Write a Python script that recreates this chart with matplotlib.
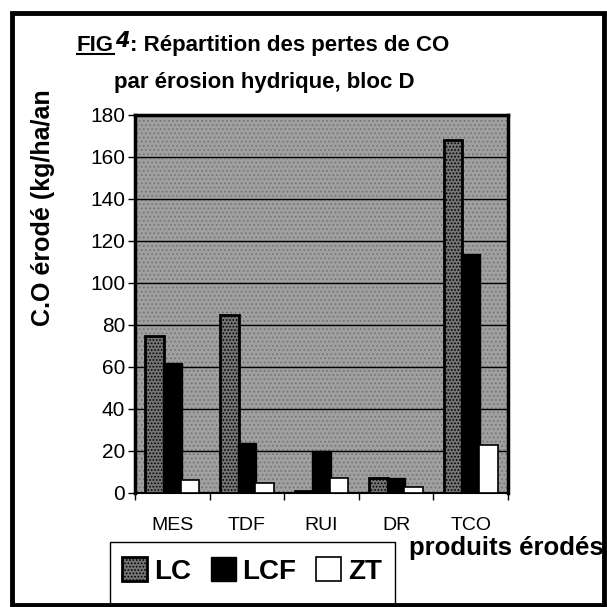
import numpy as np
import matplotlib.pyplot as plt
from matplotlib.patches import Rectangle
from matplotlib.lines import Line2D

# données (kg/ha/an)
categories = ["MES", "TDF", "RUI", "DR", "TCO"]
series = ["LC", "LCF", "ZT"]
lc = [75, 85, 1, 7, 168]
lcf = [62, 24, 20, 7, 114]
zt = [6, 5, 7, 3, 23]
yticks = [0, 20, 40, 60, 80, 100, 120, 140, 160, 180]

plt.rcParams['font.family'] = ['Liberation Sans', 'DejaVu Sans']
plt.rcParams['hatch.linewidth'] = 0.8

W = H = 607
def px(x):
    return x / W
def py(y):
    return 1 - y / H

fig = plt.figure(figsize=(6.07, 6.07), dpi=100)
ax = fig.add_axes([px(135), py(493), px(508) - px(135), py(115) - py(493)])

# fond grisé du graphe
ax.set_facecolor('#a0a0a0')
ax.add_patch(Rectangle((0, 0), 1, 1, transform=ax.transAxes, facecolor='none',
                       edgecolor='#767676', hatch='....', linewidth=0, zorder=0.5))

x = np.arange(len(categories))
w = 0.25
b1 = ax.bar(x - 0.235, lc, w, facecolor='#747474', edgecolor='black', linewidth=2,
            hatch='.....', zorder=3, label=series[0])
b2 = ax.bar(x, lcf, w, facecolor='black', edgecolor='black', linewidth=1,
            zorder=3, label=series[1])
b3 = ax.bar(x + 0.235, zt, w, facecolor='white', edgecolor='black', linewidth=1.2,
            zorder=3, label=series[2])

ax.set_xlim(-0.5, len(categories) - 0.5)
ax.set_ylim(0, 180)
ax.set_yticks(yticks)
ax.yaxis.grid(True, color='black', linewidth=1)
ax.set_axisbelow(True)
ax.tick_params(axis='y', direction='out', length=5, width=1, labelsize=15, pad=2)

ax.set_xticks(x)
ax.set_xticklabels(categories, fontsize=14)
ax.set_xticks(np.arange(-0.5, len(categories)), minor=True)
ax.tick_params(axis='x', which='major', length=0, pad=17)
ax.tick_params(axis='x', which='minor', length=5, width=1, direction='out')

for s in ['top', 'right', 'left']:
    ax.spines[s].set_linewidth(2.5)
ax.spines['bottom'].set_linewidth(1.5)

# axe y
fig.text(px(43), py(208), "C.O érodé (kg/ha/an", rotation=90, ha='center', va='center',
         fontsize=18, fontweight='bold')

# titre en morceaux (FIG souligné + 4 manuscrit)
fig.canvas.draw()
r = fig.canvas.get_renderer()
t1 = fig.text(px(77), py(51), "FIG", fontsize=16, fontweight='bold', va='baseline')
bb = t1.get_window_extent(r)
fig.add_artist(Line2D([bb.x0 / W, bb.x1 / W], [py(54), py(54)], color='black', linewidth=1.5))
t2 = fig.text(bb.x1 / W + px(1), py(47), "4", fontsize=15, va='baseline',
              family='DejaVu Sans', style='italic', fontweight='bold')
bb2 = t2.get_window_extent(r)
fig.text(bb2.x1 / W, py(51), ": Répartition des pertes de CO", fontsize=16,
         fontweight='bold', va='baseline')
fig.text(px(264), py(88), "par érosion hydrique, bloc D", fontsize=16,
         fontweight='bold', va='baseline', ha='center')

fig.text(px(409), py(555), "produits érodés", fontsize=18.5, fontweight='bold', va='baseline')

# légende
fig.add_artist(Rectangle((px(110), py(605)), px(395) - px(110), py(542) - py(605),
                         transform=fig.transFigure, facecolor='white', edgecolor='black',
                         linewidth=1))
fig.legend([b1, b2, b3], series, loc='center', bbox_to_anchor=(px(252), py(571)),
           ncol=3, frameon=False, prop={'weight': 'bold', 'size': 20},
           handlelength=0.9, handleheight=0.9, handletextpad=0.25, columnspacing=0.7)

# cadre extérieur
fig.add_artist(Rectangle((px(11.5), py(605)), px(604) - px(11.5), py(12.5) - py(605),
                         transform=fig.transFigure, facecolor='none', edgecolor='black',
                         linewidth=3.5))

fig.savefig("out.png", dpi=100)
